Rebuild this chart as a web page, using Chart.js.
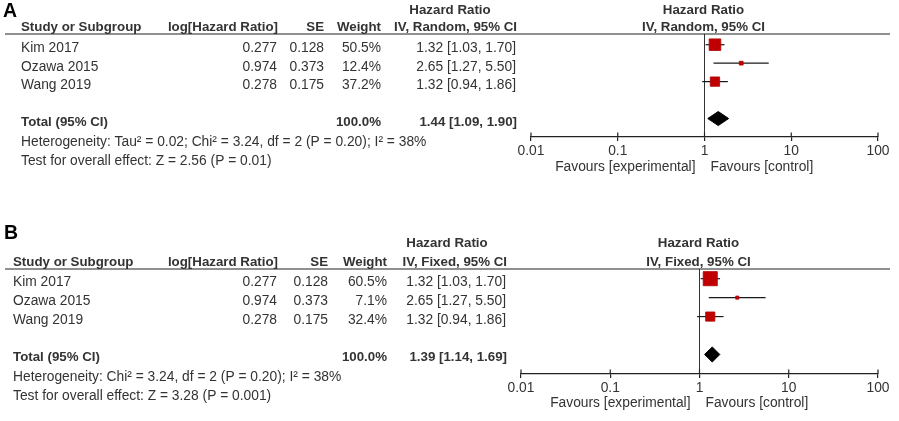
<!DOCTYPE html>
<html><head><meta charset="utf-8">
<script src="https://cdn.jsdelivr.net/npm/chart.js@4.4.1/dist/chart.umd.min.js"></script>
<style>
html,body{margin:0;padding:0;background:#fff;width:899px;height:421px;overflow:hidden}
canvas{position:absolute;left:0;top:0}
</style></head><body>
<canvas id="ca" width="899" height="421"></canvas>
<canvas id="cb" width="899" height="421"></canvas>
<script>
// ---- data ----
const studies = ['Kim 2017', 'Ozawa 2015', 'Wang 2019'];
const logHR = [0.277, 0.974, 0.278];
const seValues = [0.128, 0.373, 0.175];
const hrEst = [1.32, 2.65, 1.32];
const ciLow = [1.03, 1.27, 0.94];
const ciHigh = [1.70, 5.50, 1.86];
const weightRandom = [50.5, 12.4, 37.2];
const weightFixed = [60.5, 7.1, 32.4];
const totalWeight = 100.0;
const pooledRandom = [1.44, 1.09, 1.90]; // estimate, low, high
const pooledFixed = [1.39, 1.14, 1.69];
const xTicks = [0.01, 0.1, 1, 10, 100];
const xTickLabels = ['0.01', '0.1', '1', '10', '100'];
const hetRandom = 'Heterogeneity: Tau\u00B2 = 0.02; Chi\u00B2 = 3.24, df = 2 (P = 0.20); I\u00B2 = 38%';
const hetFixed = 'Heterogeneity: Chi\u00B2 = 3.24, df = 2 (P = 0.20); I\u00B2 = 38%';
const testRandom = 'Test for overall effect: Z = 2.56 (P = 0.01)';
const testFixed = 'Test for overall effect: Z = 3.28 (P = 0.001)';

// ---- layout / style ----
const FONT = '"Liberation Sans", Arial, sans-serif';
const TXT = '#333';
const REG = 13.8, BOLD = 13.3;
const panels = [
  { canvas: 'ca', letter: 'A', method: 'IV, Random, 95% CI', weights: weightRandom, pooled: pooledRandom,
    het: hetRandom, test: testRandom,
    area: { left: 531, right: 878, top: 34, bottom: 137 }, yMin: -0.58, yMax: 5.0,
    radii: [8.2, 2.7, 6.6], dh: 0.38,
    letterY: 11.5, letterX: 3, hrTitleY: 10, headerY: 27, textOffset: 3.7, hetY: 142, testY: 161,
    cols: { study: 21, log: 278, se: 324, weight: 381, ci: 517, hrCenter: 450 },
    favoursY: 167, lineX0: 5, lineX1: 890 },
  { canvas: 'cb', letter: 'B', method: 'IV, Fixed, 95% CI', weights: weightFixed, pooled: pooledFixed,
    het: hetFixed, test: testFixed,
    area: { left: 521, right: 878, top: 269, bottom: 374 }, yMin: -0.51, yMax: 5.03,
    radii: [10, 2.2, 6.5], dh: 0.40,
    letterY: 233.5, letterX: 4, hrTitleY: 243, headerY: 262, textOffset: 3.2, hetY: 377, testY: 396,
    cols: { study: 13, log: 278, se: 328, weight: 387, ci: 507, hrCenter: 447 },
    favoursY: 403, lineX0: 5, lineX1: 890 }
];

function ciText(e, l, h) { return e.toFixed(2) + ' [' + l.toFixed(2) + ', ' + h.toFixed(2) + ']'; }

function tablePlugin(p) {
  return {
    id: 'table' + p.letter,
    afterDraw(chart) {
      const ctx = chart.ctx, xs = chart.scales.x, ys = chart.scales.y;
      const t = (s, x, y, align, bold, size, color) => {
        ctx.font = (bold ? 'bold ' : '') + (size || (bold ? BOLD : REG)) + 'px ' + FONT;
        ctx.fillStyle = color || TXT;
        ctx.textAlign = align || 'left';
        ctx.textBaseline = 'middle';
        ctx.fillText(s, x, y);
      };
      ctx.save();
      ctx.strokeStyle = '#222';
      ctx.lineWidth = 1.2;
      ctx.beginPath();
      ctx.moveTo(p.lineX0, chart.chartArea.top);
      ctx.lineTo(p.lineX1, chart.chartArea.top);
      ctx.stroke();
      xTicks.forEach(v => {
        const x = xs.getPixelForValue(v);
        ctx.beginPath();
        ctx.moveTo(x, xs.top);
        ctx.lineTo(x, xs.top - 4.5);
        ctx.stroke();
      });
      // panel letter
      t(p.letter, p.letterX, p.letterY, 'left', true, 19.5, '#000');
      const c = p.cols;
      // table headers
      t('Hazard Ratio', c.hrCenter, p.hrTitleY, 'center', true);
      t('Study or Subgroup', c.study, p.headerY, 'left', true);
      t('log[Hazard Ratio]', c.log, p.headerY, 'right', true);
      t('SE', c.se, p.headerY, 'right', true);
      t('Weight', c.weight, p.headerY, 'right', true);
      t(p.method, c.ci, p.headerY, 'right', true);
      // plot headers
      const x1 = xs.getPixelForValue(1) - 1;
      t('Hazard Ratio', x1, p.hrTitleY, 'center', true);
      t(p.method, x1, p.headerY, 'center', true);
      // rows
      studies.forEach((s, i) => {
        const y = ys.getPixelForValue(i) + p.textOffset;
        t(s, c.study, y);
        t(logHR[i].toFixed(3), c.log - 1, y, 'right');
        t(seValues[i].toFixed(3), c.se, y, 'right');
        t(p.weights[i].toFixed(1) + '%', c.weight, y, 'right');
        t(ciText(hrEst[i], ciLow[i], ciHigh[i]), c.ci - 1, y, 'right');
      });
      const yt = ys.getPixelForValue(4) + p.textOffset;
      t('Total (95% CI)', c.study, yt, 'left', true);
      t(totalWeight.toFixed(1) + '%', c.weight, yt, 'right', true);
      t(ciText(p.pooled[0], p.pooled[1], p.pooled[2]), c.ci, yt, 'right', true);
      t(p.het, c.study, p.hetY);
      t(p.test, c.study, p.testY);
      // favours labels
      const xo = xs.getPixelForValue(1);
      t('Favours [experimental]', xo - 9, p.favoursY, 'right');
      t('Favours [control]', xo + 6, p.favoursY, 'left');
      ctx.restore();
    }
  };
}

function makeChart(p) {
  const H = 421, W = 899, axisH = 30;
  const datasets = [];
  datasets.push({
    type: 'scatter', data: hrEst.map((v, i) => ({ x: v, y: i })),
    pointStyle: 'rect', pointRadius: p.radii, pointHoverRadius: p.radii,
    backgroundColor: '#c00000', borderColor: '#b00000', borderWidth: 0.8, order: 0
  });
  studies.forEach((s, i) => datasets.push({
    type: 'line', data: [{ x: ciLow[i], y: i }, { x: ciHigh[i], y: i }],
    borderColor: '#1a1a1a', borderWidth: 1.2, pointRadius: 0, fill: false, order: 2
  }));
  const r = 4, est = p.pooled[0], lo = p.pooled[1], hi = p.pooled[2];
  datasets.push({
    type: 'line',
    data: [{ x: lo, y: r }, { x: est, y: r - p.dh }, { x: hi, y: r }, { x: est, y: r + p.dh }, { x: lo, y: r }],
    borderColor: '#000', backgroundColor: '#000', borderWidth: 1, pointRadius: 0, fill: 'shape', tension: 0, order: 1
  });
  datasets.push({
    type: 'line', data: [{ x: 1, y: p.yMin }, { x: 1, y: p.yMax }],
    borderColor: '#333', borderWidth: 1, pointRadius: 0, fill: false, order: 3
  });
  new Chart(document.getElementById(p.canvas), {
    type: 'scatter',
    data: { datasets },
    options: {
      responsive: false, animation: false, events: [],
      layout: { padding: { left: p.area.left, right: W - p.area.right, top: p.area.top, bottom: H - p.area.bottom - axisH } },
      plugins: { legend: { display: false }, tooltip: { enabled: false } },
      scales: {
        x: {
          type: 'logarithmic', min: 0.01, max: 100,
          afterBuildTicks: s => { s.ticks = xTicks.map(v => ({ value: v })); },
          afterFit: s => { s.height = axisH; },
          ticks: { autoSkip: false, maxRotation: 0, padding: 2, color: TXT, font: { family: FONT, size: REG },
                   callback: (v, i) => xTickLabels[i] },
          grid: { display: true, drawOnChartArea: false, drawTicks: true, tickLength: 4, color: '#222', lineWidth: 1.2 },
          border: { display: true, color: '#222', width: 1.2 }
        },
        y: { type: 'linear', display: false, reverse: true, min: p.yMin, max: p.yMax }
      }
    },
    plugins: [tablePlugin(p)]
  });
}
panels.forEach(makeChart);
</script>
</body></html>
